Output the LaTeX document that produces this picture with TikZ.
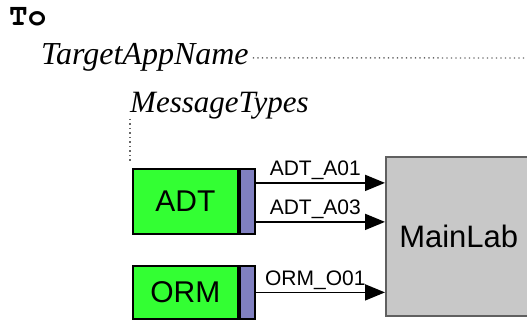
\documentclass[tikz,border=0pt]{standalone}
\usepackage{fontspec}
\setmainfont{Liberation Serif}
\setsansfont{Liberation Sans}
\newfontfamily\cursorfont{texgyrecursor}[Extension=.otf, UprightFont=*-regular, BoldFont=*-bold]
\usetikzlibrary{positioning,arrows.meta}

\definecolor{boxgreen}{RGB}{51,255,51}
\definecolor{portblue}{RGB}{128,128,192}
\definecolor{labgray}{RGB}{200,200,200}
\definecolor{edgegray}{RGB}{96,96,96}

\tikzset{
  appbox/.style={draw=black, line width=1.8pt, fill=boxgreen, minimum width=105pt, inner sep=0pt,
    font=\sffamily\fontsize{30}{30}\selectfont},
  port/.style={draw=black, line width=1.8pt, fill=portblue, minimum width=15pt, inner sep=0pt},
  labbox/.style={draw=edgegray, line width=1.5pt, fill=labgray, inner sep=0pt,
    font=\sffamily\fontsize{31}{31}\selectfont},
  msg/.style={line width=1.8pt, -{Triangle[length=20pt,width=16pt]}},
  msglabel/.style={above, inner sep=2pt, font=\sffamily\fontsize{21}{21}\selectfont},
  guide/.style={black!60, line width=1.4pt, dash pattern=on 1.2pt off 3.3pt},
  heading/.style={anchor=base west, inner sep=0pt}
}

\begin{document}
\begin{tikzpicture}[x=1pt,y=-1pt]
\useasboundingbox (0,0) rectangle (527,321);
\clip (0,0) rectangle (527,321);

% header text
\node[heading, font=\cursorfont\bfseries\fontsize{31}{31}\selectfont] (to) at (9,26) {To};
\node[heading, font=\itshape\fontsize{32}{32}\selectfont] (app) at (41,65) {TargetAppName};
\node[heading, font=\itshape\fontsize{31}{31}\selectfont] (types) at (130,112) {MessageTypes};

\coordinate (append) at (527,58);
\coordinate (drop) at (130,162);
\draw[guide] ([xshift=4pt]app.east) -- (append);
\draw[guide] (types.south west) -- (drop);

% the lab
\node[labbox, anchor=north west, minimum width=146pt, minimum height=159pt] (mainlab) at (385,156) {MainLab};

% senders
\node[appbox, anchor=north west, minimum height=65pt] (adt) at (132,168) {ADT};
\node[port, anchor=west, minimum height=65pt] (adtport) at (adt.east) {};
\node[appbox, anchor=north west, minimum height=53pt] (orm) at (132,265) {ORM};
\node[port, anchor=west, minimum height=53pt] (ormport) at (orm.east) {};

% messages
\draw[msg] ([yshift=18.5pt]adtport.east) -- ([yshift=18.5pt]adtport.east -| mainlab.west)
  node[msglabel, midway, xshift=-5pt] {ADT\_A01};
\draw[msg] ([yshift=-20.5pt]adtport.east) -- ([yshift=-20.5pt]adtport.east -| mainlab.west)
  node[msglabel, midway, xshift=-5pt] {ADT\_A03};
\draw[msg] (ormport.east) -- (ormport.east -| mainlab.west)
  node[msglabel, midway, xshift=-5pt] {ORM\_O01};
\end{tikzpicture}
\end{document}
